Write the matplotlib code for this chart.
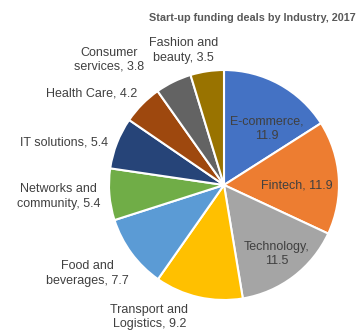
import matplotlib
matplotlib.use("Agg")
import matplotlib.pyplot as plt

industries = ["E-commerce", "Fintech", "Technology", "Transport and\nLogistics",
              "Food and\nbeverages", "Networks and\ncommunity", "IT solutions",
              "Health Care", "Consumer\nservices", "Fashion and\nbeauty"]
deals = [11.9, 11.9, 11.5, 9.2, 7.7, 5.4, 5.4, 4.2, 3.8, 3.5]
label_text = ["E-commerce,\n11.9", "Fintech, 11.9", "Technology,\n11.5",
              "Transport and\nLogistics, 9.2", "Food and\nbeverages, 7.7",
              "Networks and\ncommunity, 5.4", "IT solutions, 5.4",
              "Health Care, 4.2", "Consumer\nservices, 3.8", "Fashion and\nbeauty, 3.5"]

colors = ["#4472C4", "#ED7D31", "#A5A5A5", "#FFC000", "#5B9BD5",
          "#70AD47", "#264478", "#9E480E", "#636363", "#997300"]

# label anchor points, in pie-radius units from the centre
label_pos = [(0.37, 0.49), (0.63, 0.0), (0.46, -0.60), (-0.65, -1.15),
             (-1.19, -0.77), (-1.44, -0.10), (-1.39, 0.37), (-1.15, 0.80),
             (-1.00, 1.09), (-0.35, 1.17)]

plt.rcParams['font.family'] = ['Liberation Sans', 'DejaVu Sans']

fig = plt.figure(figsize=(3.58, 3.30), dpi=100)
ax = fig.add_axes([0, 0, 1, 1])
ax.pie(deals, colors=colors, startangle=90, counterclock=False,
       wedgeprops=dict(edgecolor="white", linewidth=1.5))

for txt, (x, y) in zip(label_text, label_pos):
    ax.text(x, y, txt, ha="center", va="center", fontsize=9,
            color="#404040", linespacing=1.25)

ax.set_xlim(-224 / 115, (358 - 224) / 115)
ax.set_ylim(-(330 - 185) / 115, 185 / 115)
ax.set_aspect("equal")

fig.text(252 / 358, 1 - 18 / 330, "Start-up funding deals by Industry, 2017",
         ha="center", va="center", fontsize=7.8, fontweight="bold", color="#595959")

fig.savefig("out.png", dpi=100)
